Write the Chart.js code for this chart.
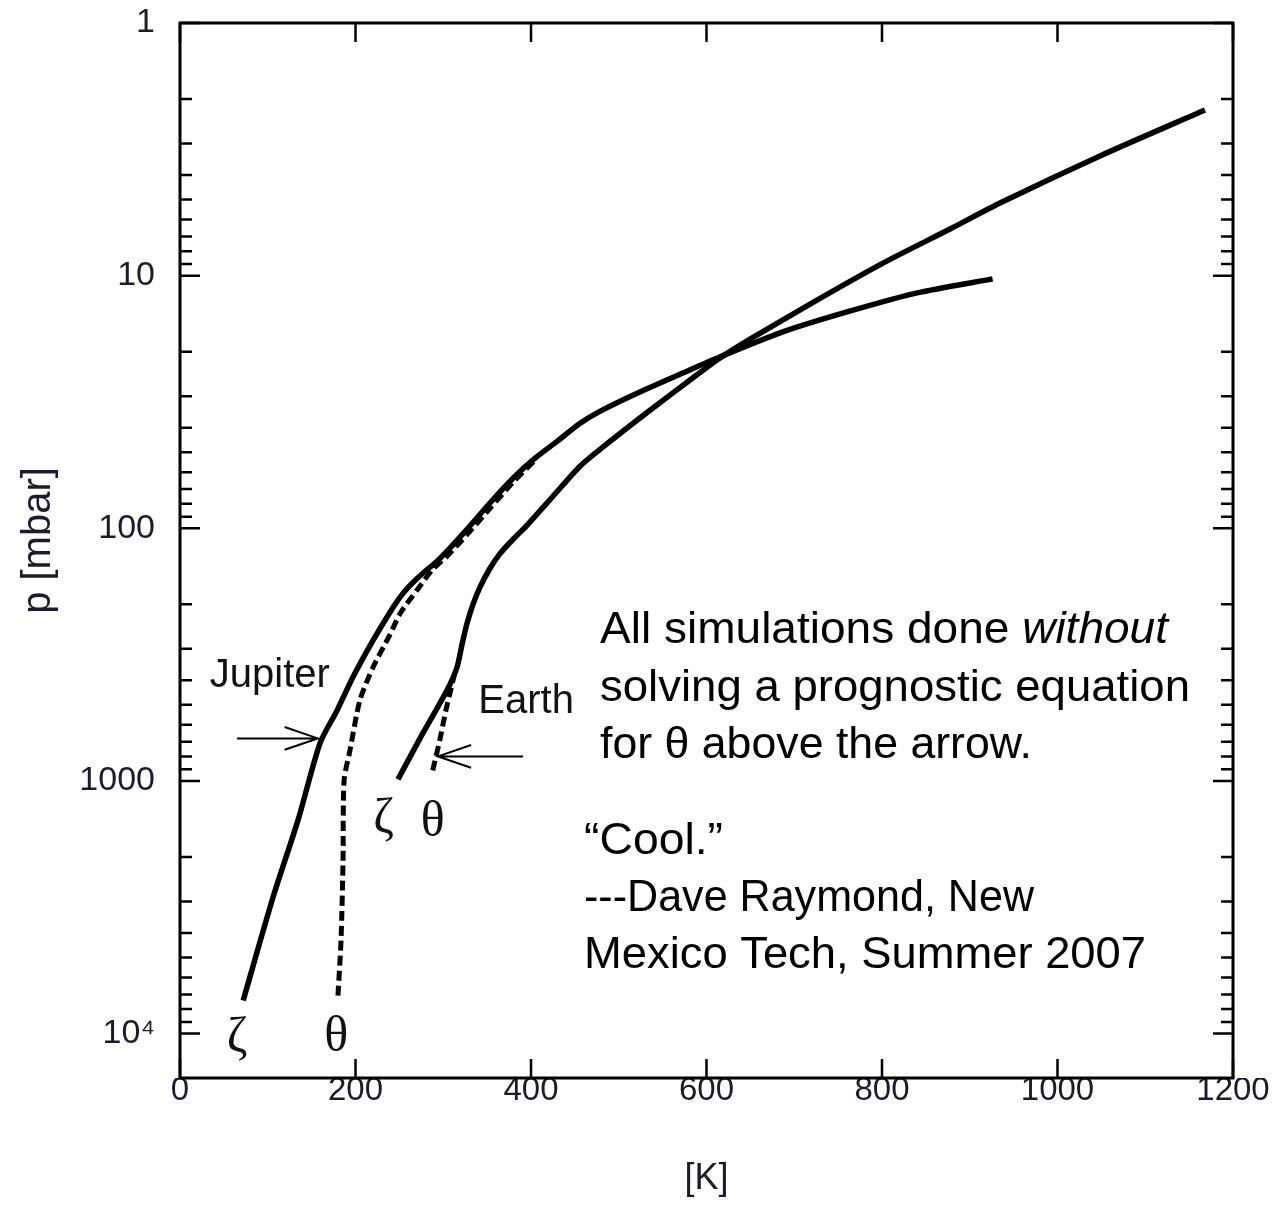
<!DOCTYPE html>
<html lang="en">
<head>
<meta charset="UTF-8">
<title>Jupiter and Earth temperature profiles</title>
<script src="https://cdn.jsdelivr.net/npm/chart.js"></script>
<style>
  body { margin: 0; background: #ffffff; }
  #wrap { width: 1275px; height: 1207px; }
</style>
</head>
<body>
<div id="wrap"><canvas id="profileChart" width="1275" height="1207"></canvas></div>
<script>
// temperature [K] / pressure [mbar]
const jupiterZetaT = [72, 106, 134.5, 159.5, 179, 197, 220, 242.7, 254.1, 265.5, 278.1, 291.7, 304.3, 327, 353, 379.5, 404.6, 430, 456, 479, 524, 573, 615, 687, 764, 840, 926];
const jupiterZetaP = [7400, 2890, 1430, 710, 526, 389, 278, 206, 181, 164, 149.4, 136.4, 123.3, 101, 79.6, 63.4, 52.8, 45.2, 38.4, 34.4, 28.9, 24.3, 21.0, 16.7, 13.8, 11.7, 10.3];

const jupiterThetaT = [180, 183.5, 185.8, 187, 193.7, 205, 220, 239, 251, 270, 288.3, 304.3, 327.1, 353.3, 379.5, 404.6];
const jupiterThetaP = [7080, 4280, 2065, 995, 757, 480, 355, 265, 217, 176, 145, 129, 106, 83.4, 65.8, 53.8];

const earthZetaT = [248.4, 273.5, 304.3, 315.7, 321.4, 327.1, 333.9, 341.9, 353.3, 364.7, 380.6, 395.4, 425.1, 455.8, 478.6, 535.6, 581.2, 615.4, 649.6, 725.9, 801.1, 877.5, 934.5, 1048.4, 1168];
const earthZetaP = [986, 679, 438, 355, 288, 238, 200, 171, 144, 126, 109.6, 97.3, 74.7, 56.8, 48.7, 34.1, 25.9, 21.2, 17.85, 12.5, 8.92, 6.54, 5.16, 3.36, 2.21];

const earthThetaT = [288, 296, 303, 309, 314.5];
const earthThetaP = [909, 691, 526, 430, 358];

const xTickValues = [0, 200, 400, 600, 800, 1000, 1200];
const yTickValues = [1, 10, 100, 1000, 10000];
const yTickLabels = ['1', '10', '100', '1000', '10\u2074'];

function toPoints(ts, ps) {
  return ts.map((t, i) => ({ x: t, y: ps[i] }));
}

const axisFont = '"Liberation Sans", Arial, sans-serif';
const noteFont = '"Liberation Sans Narrow", "Liberation Sans", Arial, sans-serif';
const greekFont = '"Liberation Serif", "DejaVu Serif", serif';

// frame, inward tick marks on all four sides
const frameTicks = {
  id: 'frameTicks',
  afterDatasetsDraw(chart) {
    const { ctx, chartArea: a, scales: { x, y } } = chart;
    ctx.save();
    ctx.strokeStyle = '#000';
    ctx.lineWidth = 2.5;
    ctx.beginPath();
    xTickValues.forEach(v => {
      const px = x.getPixelForValue(v);
      ctx.moveTo(px, a.bottom); ctx.lineTo(px, a.bottom - 19);
      ctx.moveTo(px, a.top); ctx.lineTo(px, a.top + 19);
    });
    for (let d = 1; d <= 10000; d *= 10) {
      for (let m = 1; m <= 9; m++) {
        const v = d * m;
        if (v > y.max) break;
        const py = y.getPixelForValue(v);
        const len = m === 1 ? 20 : 12;
        ctx.moveTo(a.left, py); ctx.lineTo(a.left + len, py);
        ctx.moveTo(a.right, py); ctx.lineTo(a.right - len, py);
      }
    }
    ctx.stroke();
    ctx.lineWidth = 3;
    ctx.strokeRect(a.left, a.top, a.width, a.height);
    ctx.restore();
  }
};

function drawArrow(ctx, x0, y0, x1, y1) {
  const ang = Math.atan2(y1 - y0, x1 - x0);
  ctx.beginPath();
  ctx.moveTo(x0, y0);
  ctx.lineTo(x1, y1);
  ctx.moveTo(x1 - 35 * Math.cos(ang - 0.33), y1 - 35 * Math.sin(ang - 0.33));
  ctx.lineTo(x1, y1);
  ctx.lineTo(x1 - 35 * Math.cos(ang + 0.33), y1 - 35 * Math.sin(ang + 0.33));
  ctx.stroke();
}

// draw a line made of [text, fontStyle] pieces, squeezed to a given width
function drawFitted(ctx, pieces, x, baseline, width, size) {
  let total = 0;
  pieces.forEach(p => {
    ctx.font = p[1] + ' ' + size + 'px ' + noteFont;
    total += ctx.measureText(p[0]).width;
  });
  const s = width / total;
  ctx.save();
  ctx.translate(x, baseline);
  ctx.scale(s, 1);
  let cx = 0;
  pieces.forEach(p => {
    ctx.font = p[1] + ' ' + size + 'px ' + noteFont;
    ctx.fillText(p[0], cx, 0);
    cx += ctx.measureText(p[0]).width;
  });
  ctx.restore();
}

const annotations = {
  id: 'annotations',
  afterDraw(chart) {
    const { ctx, scales: { x, y } } = chart;
    const X = v => x.getPixelForValue(v);
    const Y = v => y.getPixelForValue(v);
    ctx.save();
    ctx.fillStyle = '#111';
    ctx.strokeStyle = '#000';
    ctx.lineWidth = 2;

    // planet labels and arrows
    ctx.font = '40px ' + axisFont;
    ctx.textAlign = 'left';
    ctx.textBaseline = 'middle';
    ctx.fillText('Jupiter', X(34), Y(385));
    ctx.fillText('Earth', X(340), Y(489));
    drawArrow(ctx, X(65), Y(679), X(157), Y(679));
    drawArrow(ctx, X(391), Y(800), X(294), Y(800));

    // curve symbols
    ctx.font = '50px ' + greekFont;
    ctx.textAlign = 'center';
    ctx.fillText('\u03B6', X(65), Y(10470));
    ctx.fillText('\u03B8', X(178), Y(10370));
    ctx.fillText('\u03B6', X(232), Y(1433));
    ctx.fillText('\u03B8', X(288), Y(1460));

    // slide note
    ctx.fillStyle = '#000';
    ctx.textAlign = 'left';
    ctx.textBaseline = 'alphabetic';
    drawFitted(ctx, [['All simulations done ', ''], ['without', 'italic']], 600, 643, 568, 45);
    drawFitted(ctx, [['solving a prognostic equation', '']], 600, 701, 590, 45);
    drawFitted(ctx, [['for \u03B8 above the arrow.', '']], 600, 758, 432, 45);
    drawFitted(ctx, [['\u201CCool.\u201D', '']], 584, 854, 139, 45);
    drawFitted(ctx, [['---Dave Raymond, New', '']], 584, 911, 450, 45);
    drawFitted(ctx, [['Mexico Tech, Summer 2007', '']], 584, 968, 562, 45);
    ctx.restore();
  }
};

const solid = { borderColor: '#000', borderWidth: 5.5, pointRadius: 0, tension: 0.25, fill: false };
const dashed = { borderColor: '#000', borderWidth: 5, borderDash: [10, 5], pointRadius: 0, tension: 0.25, fill: false };

new Chart(document.getElementById('profileChart'), {
  type: 'line',
  data: {
    datasets: [
      Object.assign({ label: 'Jupiter \u03B6', data: toPoints(jupiterZetaT, jupiterZetaP) }, solid),
      Object.assign({ label: 'Jupiter \u03B8', data: toPoints(jupiterThetaT, jupiterThetaP) }, dashed),
      Object.assign({ label: 'Earth \u03B6', data: toPoints(earthZetaT, earthZetaP) }, solid),
      Object.assign({ label: 'Earth \u03B8', data: toPoints(earthThetaT, earthThetaP) }, dashed)
    ]
  },
  options: {
    responsive: false,
    devicePixelRatio: 1,
    animation: false,
    layout: { padding: { top: 23, right: 42, left: 0, bottom: 0 } },
    plugins: {
      legend: { display: false },
      tooltip: { enabled: false }
    },
    scales: {
      x: {
        type: 'linear',
        position: 'bottom',
        min: 0,
        max: 1200,
        grid: { display: false },
        border: { display: false },
        ticks: {
          stepSize: 200,
          autoSkip: false,
          maxRotation: 0,
          padding: -12,
          color: '#1b1b2b',
          font: { family: axisFont, size: 33, lineHeight: 1 },
          callback(value) { return String(value); }
        },
        title: {
          display: true,
          text: '[K]',
          color: '#1b1b2b',
          font: { family: axisFont, size: 36, lineHeight: 1.2 },
          padding: { top: 0, bottom: 6 }
        },
        afterFit(scale) {
          scale.height = 129;
          scale.paddingLeft = 0;
          scale.paddingRight = 0;
        }
      },
      y: {
        type: 'logarithmic',
        reverse: true,
        min: 1,
        max: 15000,
        grid: { display: false },
        border: { display: false },
        afterBuildTicks(scale) {
          scale.ticks = yTickValues.map(v => ({ value: v, major: true }));
        },
        ticks: {
          autoSkip: false,
          padding: 17,
          color: '#1b1b2b',
          font: { family: axisFont, size: 34 },
          callback(value) {
            const i = yTickValues.indexOf(value);
            return i >= 0 ? yTickLabels[i] : '';
          }
        },
        title: {
          display: true,
          text: '\u2002p [mbar]',
          color: '#1b1b2b',
          font: { family: axisFont, size: 40, lineHeight: 1.2 },
          padding: { top: 15 }
        },
        afterFit(scale) {
          scale.width = 180;
          scale.paddingTop = 0;
          scale.paddingBottom = 0;
        }
      }
    }
  },
  plugins: [frameTicks, annotations]
});
</script>
</body>
</html>
